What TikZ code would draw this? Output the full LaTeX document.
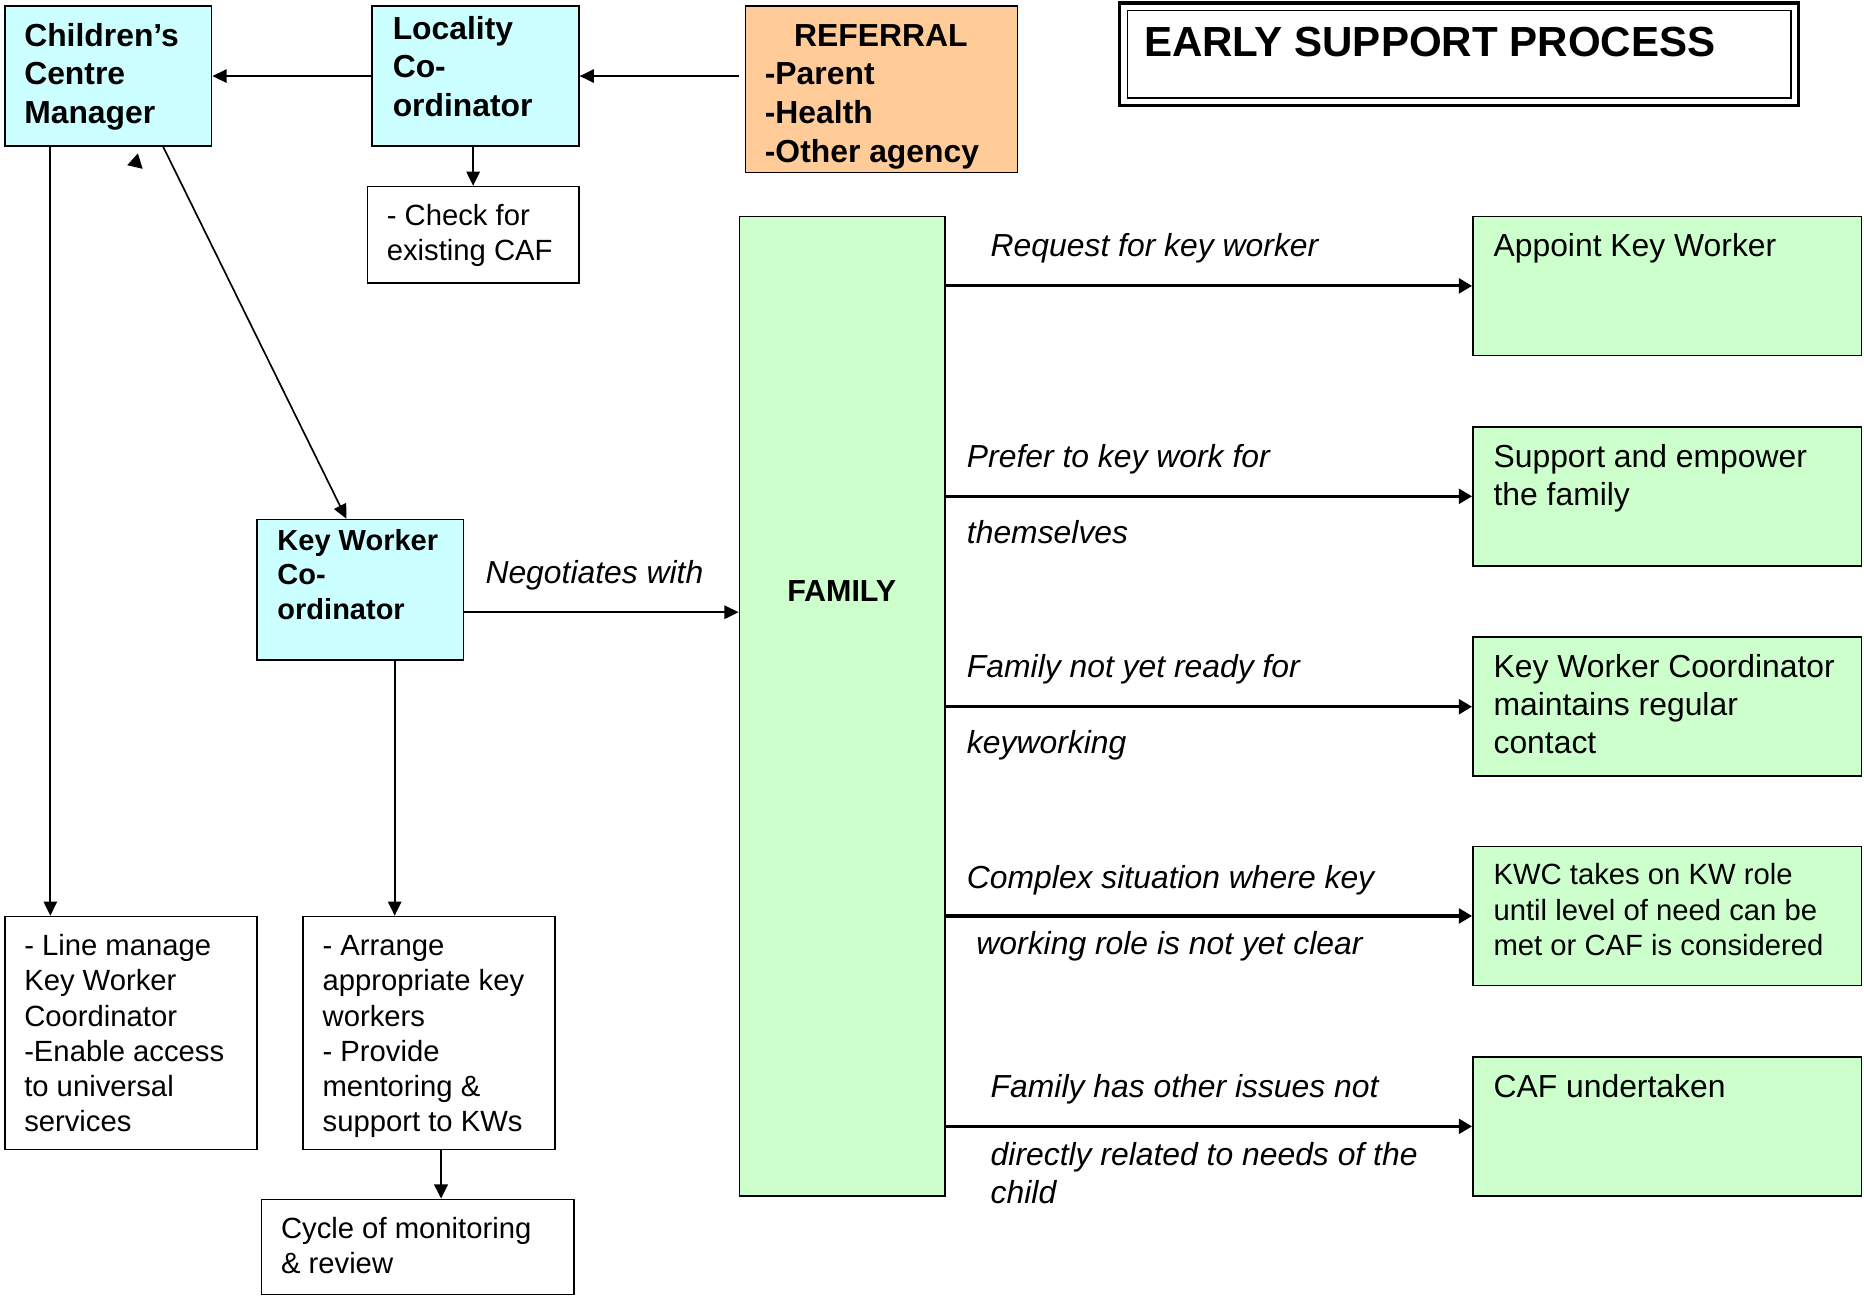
\documentclass[tikz,border=0pt]{standalone}
\usepackage{fontspec}
\setmainfont{Liberation Sans}
\usetikzlibrary{arrows.meta,positioning,fit,calc}
\definecolor{boxcyan}{RGB}{204,255,255}
\definecolor{boxorange}{RGB}{255,204,153}
\definecolor{boxgreen}{RGB}{204,255,204}

\tikzset{
  box/.style={draw, line width=0.65pt, inner sep=0pt},
  txt/.style={anchor=base west, align=left, inner sep=0pt, font=\fontsize{13.4}{16}\selectfont},
  txtb/.style={txt, font=\bfseries\fontsize{13.4}{16.25}\selectfont},
  txts/.style={txt, font=\fontsize{12.3}{14.8}\selectfont},
  lbl/.style={txt, font=\itshape\fontsize{13.4}{16}\selectfont},
  arr/.style={-{Triangle[length=6pt,width=5.6pt]}, line width=0.85pt},
  thickarr/.style={-{Triangle[length=5.6pt,width=6.2pt]}, line width=1.35pt},
}

\begin{document}
\begin{tikzpicture}[x=0.5pt, y=-0.5pt]
\useasboundingbox (0,0) rectangle (1568,1090);

% top row (multi-line texts sit on the baseline of their last line)
\node[box, fill=boxcyan, fit={(4,5) (178,123)}] (ccm) {};
\node[txtb] (ccm-t) at (20,104) {Children’s\\Centre\\Manager};
\node[box, fill=boxcyan, fit={(313,5) (487,123)}] (loc) {};
\node[txtb] (loc-t) at (330,98) {Locality\\Co-\\ordinator};
\node[box, fill=boxorange, fit={(627,5) (856,145)}] (ref) {};
\node[txtb, anchor=base] (ref-h) at (741,39) {REFERRAL};
\node[txtb] (ref-t) at (643,136.5) {-Parent\\-Health\\-Other agency};
\node[box, fit={(309,157) (487,238)}] (chk) {};
\node[txts, font=\fontsize{12.3}{14.5}\selectfont] (chk-t) at (325,219) {- Check for\\existing CAF};

% title
\node[draw, line width=1.3pt, inner sep=0pt, fit={(942,2.5) (1513,88.5)}] (title-o) {};
\node[draw, line width=0.6pt, inner sep=0pt, fit={(948.5,9) (1506.5,82.5)}] (title) {};
\node[txt, font=\bfseries\fontsize{17.7}{20}\selectfont] (title-t) at (962,47.5) {EARLY SUPPORT PROCESS};

% key worker coordinator and the boxes below
\node[box, fill=boxcyan, fit={(216,437) (390,555)}] (kwc) {};
\node[txtb, font=\bfseries\fontsize{12.2}{14.5}\selectfont] (kwc-t) at (233,521) {Key Worker\\Co-\\ordinator};
\node[box, fit={(4,771) (216,967)}] (lm) {};
\node[txts] (lm-t) at (20,952) {- Line manage\\Key Worker\\Coordinator\\-Enable access\\to universal\\services};
\node[box, fit={(255,771) (467,967)}] (arrange) {};
\node[txts] (arrange-t) at (271,952) {- Arrange\\appropriate key\\workers\\- Provide\\mentoring \&\\support to KWs};
\node[box, fit={(220,1009) (483,1089)}] (cyc) {};
\node[txts] (cyc-t) at (236,1071.5) {Cycle of monitoring\\\& review};

% family and outcomes
\node[box, fill=boxgreen, fit={(622,182) (795,1006)}] (fam) {};
\node[txtb, anchor=base, font=\bfseries\fontsize{12.8}{15}\selectfont] (fam-t) at (708,506) {FAMILY};
\node[box, fill=boxgreen, fit={(1239,182) (1566,299)}] (appoint) {};
\node[txt] (appoint-t) at (1256,216) {Appoint Key Worker};
\node[box, fill=boxgreen, fit={(1239,359) (1566,476)}] (support) {};
\node[txt] (support-t) at (1256,425) {Support and empower\\the family};
\node[box, fill=boxgreen, fit={(1239,536) (1566,653)}] (kwcm) {};
\node[txt] (kwcm-t) at (1256,634) {Key Worker Coordinator\\maintains regular\\contact};
\node[box, fill=boxgreen, fit={(1239,712) (1566,829)}] (kwcr) {};
\node[txts, font=\fontsize{12.3}{15}\selectfont] (kwcr-t) at (1256,804) {KWC takes on KW role\\until level of need can be\\met or CAF is considered};
\node[box, fill=boxgreen, fit={(1239,889) (1566,1006)}] (caf) {};
\node[txt] (caf-t) at (1256,923) {CAF undertaken};

% labels on the arrows
\node[lbl] (neg) at (408,491) {Negotiates with};
\node[lbl] (req) at (833,216) {Request for key worker};
\node[lbl] (pref) at (813,393) {Prefer to key work for};
\node[lbl] (pref-b) at (813,457) {themselves};
\node[lbl] (ready) at (813,570) {Family not yet ready for};
\node[lbl] (ready-b) at (813,634) {keyworking};
\node[lbl] (cplx) at (813,747) {Complex situation where key};
\node[lbl] (cplx-b) at (821,803) {working role is not yet clear};
\node[lbl] (issues) at (833,923) {Family has other issues not};
\node[lbl] (issues-b) at (833,1012) {directly related to needs of the\\child};

% connectors
\draw[arr] ($(ref.west |- loc.east)+(-5,0)$) -- (loc.east);
\draw[arr] (loc.west) -- (ccm.east);
\draw[arr] (chk.north |- loc.south) -- (chk.north);
\coordinate (ccmdown) at ($(ccm.south west)+(39,0)$);
\draw[arr] (ccmdown) -- (ccmdown |- lm.north);
\draw[arr, line width=0.7pt] ($(ccm.south west)+(134,0)$) -- ($(kwc.north west)+(76,0)$);
\fill (116,129) -- (107,139) -- (120,142) -- cycle;
\coordinate (kwcout) at ($(kwc.east)+(0,19)$);
\draw[arr] (kwcout) -- (kwcout -| fam.west);
\coordinate (kwcdown) at ($(kwc.south)+(29,0)$);
\draw[arr] (kwcdown) -- (kwcdown |- arrange.north);
\coordinate (arrdown) at ($(arrange.south)+(10,0)$);
\draw[arr, line width=1.2pt] (arrdown) -- (arrdown |- cyc.north);
\foreach \b in {appoint,support,kwcm,kwcr,caf}
  \draw[thickarr] (fam.east |- \b.west) -- (\b.west);
\end{tikzpicture}
\end{document}
